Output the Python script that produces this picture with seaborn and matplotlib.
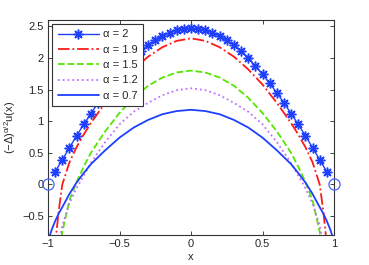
import numpy as np
import pandas as pd
import matplotlib
matplotlib.use("Agg")
import matplotlib.pyplot as plt
import seaborn as sns

sns.set_style("ticks")
plt.rcParams["font.family"] = ["Liberation Sans", "DejaVu Sans"]
plt.rcParams["mathtext.fontset"] = "custom"
plt.rcParams["mathtext.rm"] = "Liberation Sans"
plt.rcParams["mathtext.it"] = "Liberation Sans"
plt.rcParams["xtick.direction"] = "in"
plt.rcParams["ytick.direction"] = "in"
plt.rcParams["xtick.top"] = True
plt.rcParams["ytick.right"] = True

# alpha = 2, markers every 0.05 (half curve, x >= 0)
x_star_half = [0.0, 0.05, 0.1, 0.15, 0.2, 0.25, 0.3, 0.35, 0.4, 0.45,
               0.5, 0.55, 0.6, 0.65, 0.7, 0.75, 0.8, 0.85, 0.9, 0.95]
y_a20_half = [2.47, 2.46, 2.44, 2.40, 2.34, 2.28, 2.20, 2.11, 2.00, 1.87,
              1.74, 1.60, 1.45, 1.29, 1.12, 0.95, 0.77, 0.58, 0.39, 0.20]

# other curves (half curve, x >= 0)
x_half = [0.0, 0.1, 0.2, 0.3, 0.4, 0.5, 0.6, 0.7, 0.75, 0.8, 0.85, 0.9,
          0.925, 0.95, 0.975, 1.0]
y_a19_half = [2.31, 2.27, 2.17, 2.02, 1.82, 1.58, 1.29, 0.97, 0.79, 0.59,
              0.35, 0.00, -0.42, -0.95, -1.6, -2.5]
y_a15_half = [1.80, 1.77, 1.69, 1.56, 1.37, 1.13, 0.84, 0.50, 0.28, 0.04,
              -0.25, -0.75, -1.1, -1.6, -2.2, -3.0]
y_a12_half = [1.52, 1.49, 1.41, 1.29, 1.15, 0.95, 0.67, 0.34, 0.14, -0.06,
              -0.30, -0.65, -0.95, -1.4, -2.0, -3.0]
y_a07_half = [1.18, 1.16, 1.11, 1.02, 0.90, 0.74, 0.54, 0.32, 0.18, 0.03,
              -0.15, -0.36, -0.46, -0.58, -0.72, -0.90]

x_bnd = [-1.0, 1.0]
y_bnd = [0.0, 0.0]

labels = ["α = 2", "α = 1.9", "α = 1.5", "α = 1.2", "α = 0.7"]


def mirror(xh, yh):
    xs = [-v for v in xh[::-1]] + list(xh[1:])
    ys = list(yh[::-1]) + list(yh[1:])
    return np.array(xs), np.array(ys)


fig = plt.figure(figsize=(3.69, 2.65), dpi=100)
ax = fig.add_axes([48 / 369, 1 - 235 / 265, 286 / 369, 215 / 265])

blue = "#1f3fff"
xs, ys = mirror(x_star_half, y_a20_half)
sns.lineplot(x=xs, y=ys, ax=ax, color=blue, lw=1.0, marker=(8, 2, 0),
             markersize=7, markeredgewidth=1.1, markeredgecolor=blue,
             label=labels[0], sort=False)

styles = [(y_a19_half, "#ff1a1a", "-."), (y_a15_half, "#55e600", "--"),
          (y_a12_half, "#c070ff", ":"), (y_a07_half, blue, "-")]
for (yh, c, ls), lab in zip(styles, labels[1:]):
    xs, ys = mirror(x_half, yh)
    sns.lineplot(x=xs, y=ys, ax=ax, color=c, linestyle=ls, lw=1.3,
                 label=lab, sort=False)

ax.plot(x_bnd, y_bnd, "o", mfc="none", mec="#4060ff", ms=8, mew=0.9,
        clip_on=False, zorder=5)

ax.set_xlim(-1, 1)
ax.set_ylim(-0.8, 2.6)
ax.set_xticks([-1, -0.5, 0, 0.5, 1])
ax.set_xticklabels(["\u22121", "\u22120.5", "0", "0.5", "1"])
ax.set_yticks([-0.5, 0, 0.5, 1, 1.5, 2, 2.5])
ax.set_yticklabels(["\u22120.5", "0", "0.5", "1", "1.5", "2", "2.5"])
ax.tick_params(labelsize=8, length=3, width=0.6, pad=3)
for s in ax.spines.values():
    s.set_linewidth(0.8)
    s.set_color("#333333")

ax.set_xlabel("x", fontsize=8, labelpad=2)
ax.set_ylabel(r"$(-\Delta)^{\alpha/2}u(x)$", fontsize=8, labelpad=3)

leg = ax.legend(loc="upper left", bbox_to_anchor=(0.014, 0.982), fontsize=8,
                frameon=True, fancybox=False, edgecolor="#333333",
                framealpha=1, handlelength=3.7, handletextpad=0.35,
                labelspacing=0.48, borderpad=0.5, borderaxespad=0)
leg.get_frame().set_linewidth(0.8)
# MATLAB legends leave extra room on the right of the labels
leg_frame_w = leg.get_frame()
fig.canvas.draw()
bb = leg_frame_w.get_bbox()
leg_frame_w.set_width(bb.width + 8)

fig.savefig("out.png", dpi=100)
